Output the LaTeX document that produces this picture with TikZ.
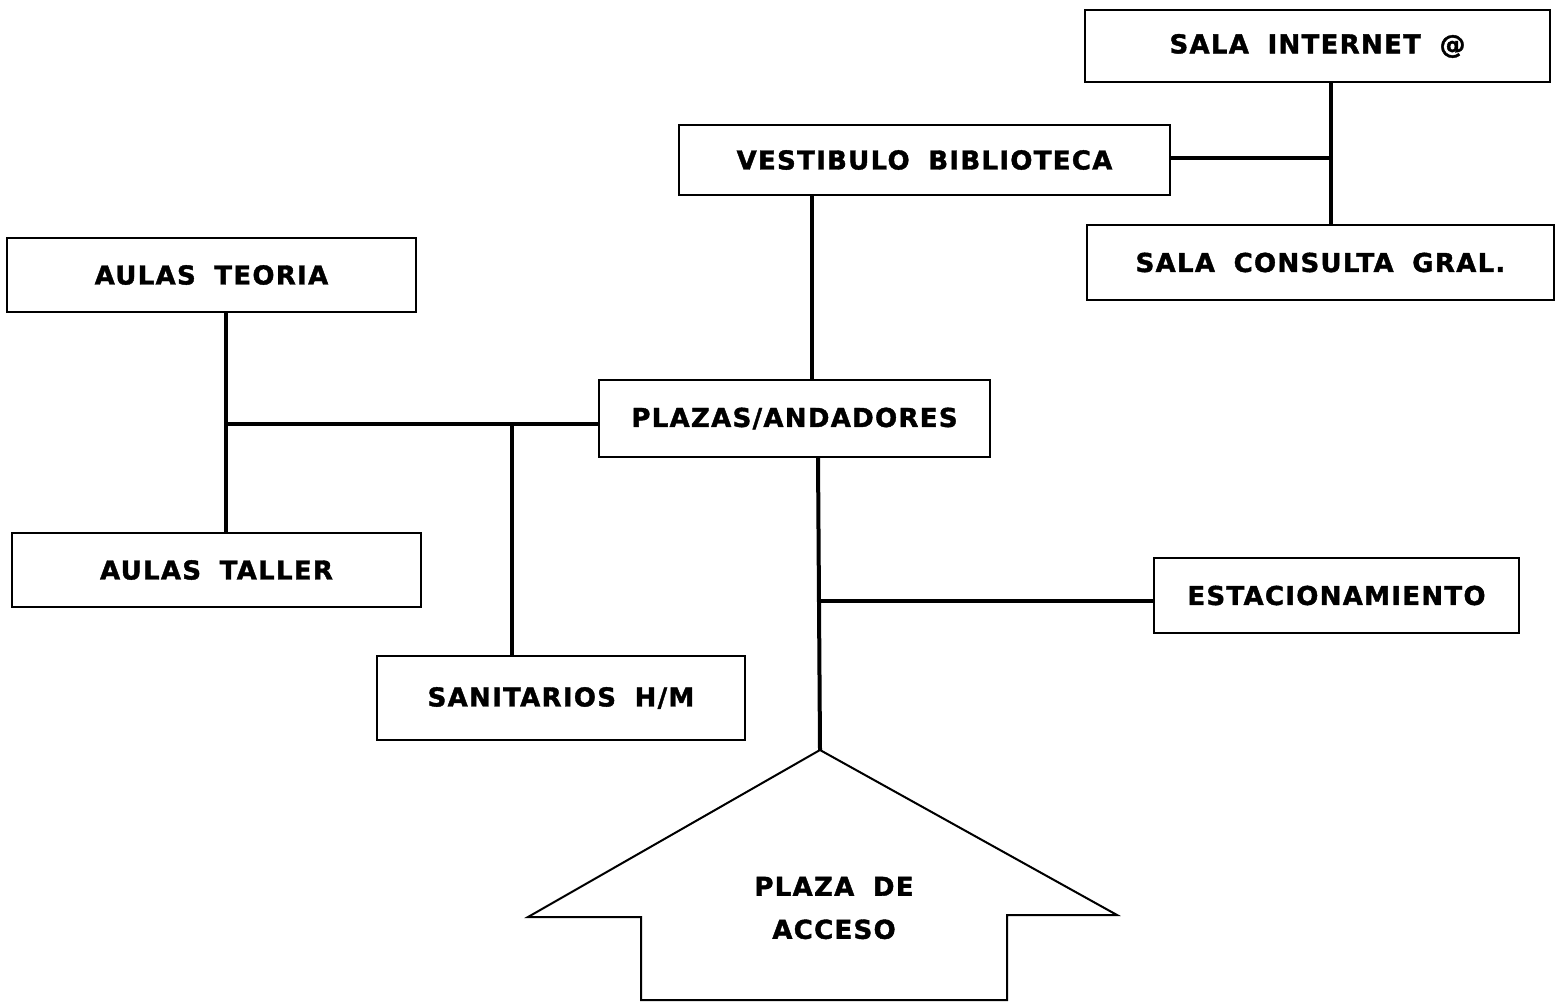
\documentclass[tikz,border=0pt]{standalone}
\usepackage{fontspec}
\newfontfamily\rotulo[LetterSpace=5,WordSpace=1.8,BoldFeatures={FakeBold=1.5}]{DejaVu Sans}
\begin{document}
\begin{tikzpicture}[x=0.5pt,y=-0.5pt]
      \tikzstyle{every node}+=[inner sep=0pt]
      \tikzstyle{sala}=[draw, line width=1pt, font=\rotulo\bfseries\fontsize{13}{16}\selectfont]
      \tikzstyle{liga}=[line width=2pt]
      \useasboundingbox (0,0) rectangle (1556,1005);
      \node [sala, minimum width=232.5pt, minimum height=36pt] (internet) at (1317.5,46) {SALA INTERNET @};
      \node [sala, minimum width=245.5pt, minimum height=35pt] (vestibulo) at (924.5,160) {VESTIBULO BIBLIOTECA};
      \node [sala, minimum width=233.5pt, minimum height=37.5pt] (consulta) at (1320.5,262.5) {SALA CONSULTA GRAL.};
      \node [sala, minimum width=204.5pt, minimum height=37pt] (teoria) at (211.5,275) {AULAS TEORIA};
      \node [sala, minimum width=195.5pt, minimum height=38.5pt] (plazas) at (794.5,418.5) {PLAZAS/ANDADORES};
      \node [sala, minimum width=204.5pt, minimum height=37pt] (taller) at (216.5,570) {AULAS TALLER};
      \node [sala, minimum width=182.5pt, minimum height=37.5pt] (estac) at (1336.5,595.5) {ESTACIONAMIENTO};
      \node [sala, minimum width=184pt, minimum height=42pt] (sanitarios) at (561,698) {SANITARIOS H/M};
      \coordinate (jBib) at (1331,158);
      \coordinate (jAula) at (226,424);
      \coordinate (jSan) at (512,424);
      \coordinate (jEst) at (818,601);
      \coordinate (jVes) at (812,300);
      \coordinate (punta) at (820,750);
      \draw [line width=1pt] (punta) -- (528,917) -- (641,917) -- (641,1000) -- (1007,1000) -- (1007,915) -- (1117,915) -- cycle;
      \node [font=\rotulo\bfseries\fontsize{13}{21.5}\selectfont, align=center] (acceso) at (834,908) {PLAZA DE\\ACCESO};
      \draw [liga] (internet.south -| jBib) -- (consulta.north -| jBib);
      \draw [liga] (jBib -| vestibulo.east) -- (jBib);
      \draw [liga] (vestibulo.south -| jVes) -- (plazas.north -| jVes);
      \draw [liga] (plazas.south -| jEst) -- (punta);
      \draw [liga] (jEst) -- (jEst -| estac.west);
      \draw [liga] (teoria.south -| jAula) -- (taller.north -| jAula);
      \draw [liga] (jAula) -- (jAula -| plazas.west);
      \draw [liga] (jSan) -- (jSan |- sanitarios.north);
    \end{tikzpicture}
\end{document}
